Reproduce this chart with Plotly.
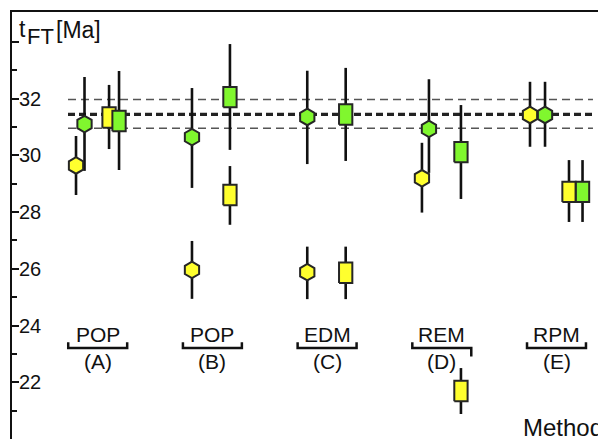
import plotly.graph_objects as go

# ---------------- data ----------------
groups = ["A", "B", "C", "D", "E"]
methods = ["POP", "POP", "EDM", "REM", "RPM"]

# yellow hexagons
yhex_val = [29.64, 25.96, 25.88, 29.19, 31.42]
yhex_hi = [30.68, 26.98, 26.78, 30.44, 32.59]
yhex_lo = [28.60, 24.94, 24.93, 27.98, 30.30]
# green hexagons
ghex_val = [31.10, 30.64, 31.35, 30.93, 31.42]
ghex_hi = [32.76, 32.37, 32.98, 32.68, 32.59]
ghex_lo = [29.45, 28.85, 29.69, 29.38, 30.30]
# yellow rectangles
ysq_val = [31.33, 28.60, 25.86, 21.69, 28.71]
ysq_hi = [32.48, 29.62, 26.78, 22.50, 29.83]
ysq_lo = [30.22, 27.55, 24.93, 20.88, 27.65]
# green rectangles
gsq_val = [31.21, 32.05, 31.44, 30.11, 28.71]
gsq_hi = [32.97, 33.92, 33.08, 31.77, 29.83]
gsq_lo = [29.48, 30.19, 29.80, 28.46, 27.65]

ref_mean = 31.44
ref_upper = 31.97
ref_lower = 30.95

yticks = [22, 24, 26, 28, 30, 32, 34]
yticklabels = ["22", "24", "26", "28", "30", "32", ""]
minor_ticks = [21, 23, 25, 27, 29, 31, 33]

# ---------------- layout constants ----------------
PAGE_OFF = 8          # default body margin of the html page
W, H = 606 - PAGE_OFF, 439 - PAGE_OFF
ML, MT = 12 - PAGE_OFF, 12 - PAGE_OFF
XR = [0.2528, 5.4316]
YR = [20.0, 35.05]

# horizontal dodge offsets for each series (per group)
off_yhex = [-0.189, -0.178, -0.173, -0.173, -0.231]
off_ghex = [-0.115, -0.178, -0.173, -0.112, -0.100]
off_ysq = [0.099, 0.153, 0.162, 0.167, 0.109]
off_gsq = [0.186, 0.153, 0.162, 0.167, 0.227]

YELLOW = "#FFFF2E"
GREEN = "#80F72E"
EDGE = "#262626"
RECT_HW = 0.058
RECT_HH = 0.36

gpos = [i + 1 for i in range(len(groups))]


def xs(offs):
    return [g + o for g, o in zip(gpos, offs)]


# page pixel -> paper coordinate
def px_to_paper_x(p):
    return (p - 12) / (606 - 12)


def px_to_paper_y(p):
    return 1 - (p - 12) / (439 - 12)


fig = go.Figure()

# reference lines
line_x = [0.741, 5.318]
fig.add_trace(go.Scatter(x=line_x, y=[ref_upper] * 2, mode="lines",
                         line=dict(color="#555555", width=1.5, dash="8px,5px"),
                         hoverinfo="skip", showlegend=False))
fig.add_trace(go.Scatter(x=line_x, y=[ref_lower] * 2, mode="lines",
                         line=dict(color="#555555", width=1.5, dash="8px,5px"),
                         hoverinfo="skip", showlegend=False))
fig.add_trace(go.Scatter(x=line_x, y=[ref_mean] * 2, mode="lines",
                         line=dict(color="#222222", width=3.2, dash="7px,4px"),
                         hoverinfo="skip", showlegend=False))

# error bars
for offs, v, hi, lo in [(off_yhex, yhex_val, yhex_hi, yhex_lo),
                        (off_ghex, ghex_val, ghex_hi, ghex_lo),
                        (off_ysq, ysq_val, ysq_hi, ysq_lo),
                        (off_gsq, gsq_val, gsq_hi, gsq_lo)]:
    fig.add_trace(go.Scatter(
        x=xs(offs), y=v, mode="markers",
        marker=dict(size=1, color="rgba(0,0,0,0)"),
        error_y=dict(type="data", symmetric=False,
                     array=[h - c for h, c in zip(hi, v)],
                     arrayminus=[c - l for c, l in zip(v, lo)],
                     width=0, thickness=2.6, color="#111111"),
        hoverinfo="skip", showlegend=False))


# rectangles
def rect_path(offs, vals):
    px, py = [], []
    for x, v in zip(xs(offs), vals):
        px += [x - RECT_HW, x + RECT_HW, x + RECT_HW, x - RECT_HW, x - RECT_HW, None]
        py += [v - RECT_HH, v - RECT_HH, v + RECT_HH, v + RECT_HH, v - RECT_HH, None]
    return px, py


for offs, vals, col in [(off_ysq, ysq_val, YELLOW), (off_gsq, gsq_val, GREEN)]:
    px, py = rect_path(offs, vals)
    fig.add_trace(go.Scatter(x=px, y=py, mode="lines", fill="toself",
                             fillcolor=col, line=dict(color=EDGE, width=2),
                             hoverinfo="skip", showlegend=False))

# hexagons
for offs, vals, col in [(off_yhex, yhex_val, YELLOW), (off_ghex, ghex_val, GREEN)]:
    fig.add_trace(go.Scatter(x=xs(offs), y=vals, mode="markers",
                             marker=dict(symbol="hexagon", size=16.5, color=col,
                                         line=dict(color=EDGE, width=2)),
                             hoverinfo="skip", showlegend=False))

# group labels and brackets
LABEL_Y = 23.70
PAREN_Y = 22.72
BR_BOT = 23.21
BR_TOP = 23.41
BR_HW = 0.257
shapes = []
annotations = []
for i, (g, m) in enumerate(zip(groups, methods)):
    cx = gpos[i]
    right_end = BR_TOP if g != "D" else BR_BOT - 0.3
    shapes.append(dict(
        type="path", xref="x", yref="y",
        path=f"M {cx - BR_HW},{BR_TOP} L {cx - BR_HW},{BR_BOT} L {cx + BR_HW},{BR_BOT} L {cx + BR_HW},{right_end}",
        line=dict(color="#111111", width=2.5)))
    annotations.append(dict(x=cx, y=LABEL_Y, xref="x", yref="y", text=m,
                            showarrow=False, font=dict(size=21, color="#111111"),
                            xanchor="center", yanchor="middle"))
    annotations.append(dict(x=cx, y=PAREN_Y, xref="x", yref="y", text=f"({g})",
                            showarrow=False, font=dict(size=21, color="#111111"),
                            xanchor="center", yanchor="middle"))

# axis title pieces
annotations.append(dict(x=px_to_paper_x(17), y=px_to_paper_y(29), xref="paper", yref="paper",
                        text="t", showarrow=False, font=dict(size=23, color="#111111"),
                        xanchor="left", yanchor="middle"))
annotations.append(dict(x=px_to_paper_x(24.5), y=px_to_paper_y(37), xref="paper", yref="paper",
                        text="FT", showarrow=False, font=dict(size=22, color="#111111"),
                        xanchor="left", yanchor="middle"))
annotations.append(dict(x=px_to_paper_x(54), y=px_to_paper_y(29.5), xref="paper", yref="paper",
                        text="[Ma]", showarrow=False, font=dict(size=23, color="#111111"),
                        xanchor="left", yanchor="middle"))
annotations.append(dict(x=px_to_paper_x(521), y=px_to_paper_y(427), xref="paper", yref="paper",
                        text="Method", showarrow=False, font=dict(size=24, color="#111111"),
                        xanchor="left", yanchor="middle"))

fig.update_layout(
    width=W, height=H,
    margin=dict(l=ML, r=0, t=MT, b=0, pad=0),
    paper_bgcolor="white", plot_bgcolor="white",
    font=dict(family="Liberation Sans, Arial, sans-serif", color="#111111"),
    shapes=shapes, annotations=annotations,
    showlegend=False,
    xaxis=dict(range=XR, side="top", showline=True, linecolor="#111111", linewidth=2,
               showgrid=False, zeroline=False, showticklabels=False, ticks=""),
    yaxis=dict(range=YR, showline=True, linecolor="#111111", linewidth=2,
               showgrid=False, zeroline=False,
               tickmode="array", tickvals=yticks, ticktext=yticklabels,
               ticks="inside", ticklen=7, tickwidth=2, tickcolor="#111111",
               ticklabelposition="inside", ticklabelstandoff=1,
               tickfont=dict(size=20, color="#111111"),
               minor=dict(tickmode="array", tickvals=minor_ticks, ticks="inside",
                          ticklen=5, tickwidth=2, tickcolor="#111111", showgrid=False)),
)

fig.write_html("out.html")
